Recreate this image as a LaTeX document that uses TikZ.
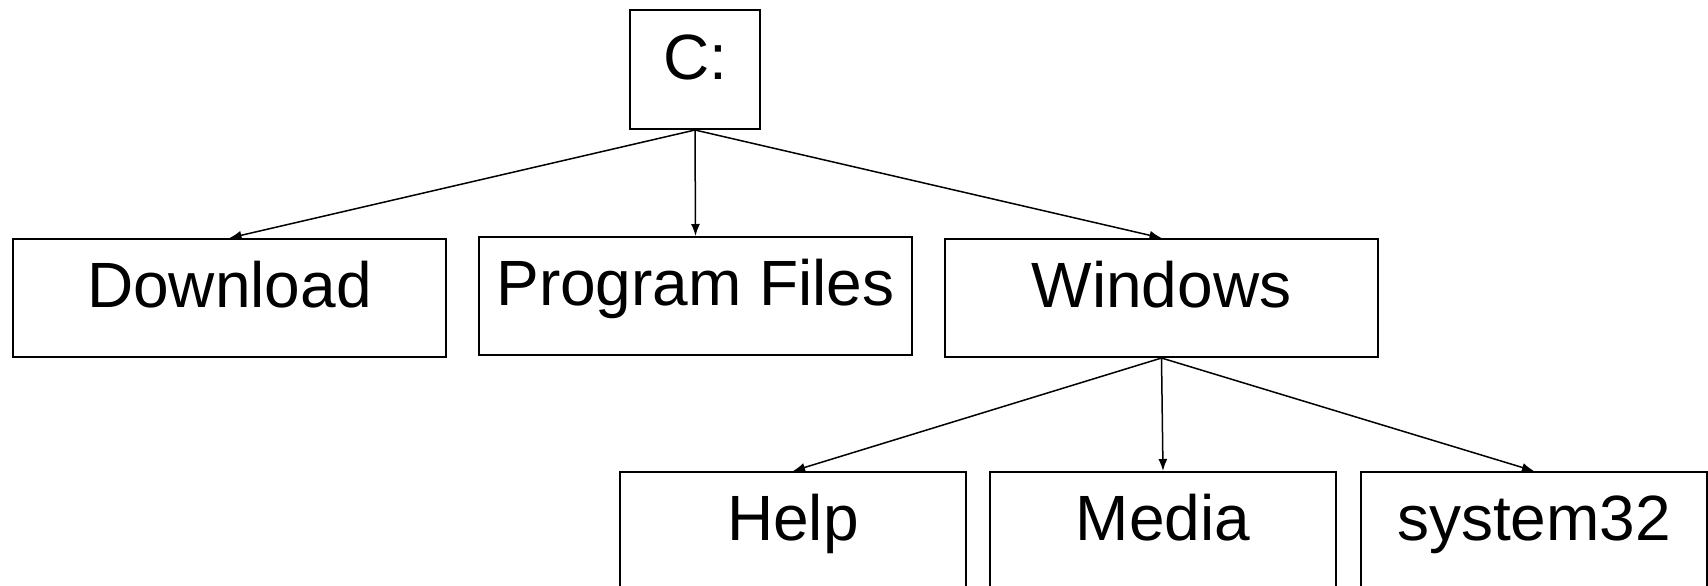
\documentclass[tikz,border=0pt]{standalone}
\usepackage{fontspec}
\setmainfont{Liberation Sans}
\usepackage{tikz}
\usetikzlibrary{
  arrows.meta,
  positioning,
}
\tikzstyle{folder} = [
  draw,
  rectangle,
  line width=1pt,
  inner sep=0pt,
  minimum width=216.5,
  text height=34pt,
  text depth=25pt,
  font=\fontsize{32}{38}\selectfont,
]
\tikzstyle{arrow} = [
  -{Latex[length=6pt,width=4.5pt]},
  line width=0.75pt,
]

\begin{document}
\begin{tikzpicture}[x=0.5pt,y=-0.5pt,node distance=0mm and 15.5pt]
      \useasboundingbox (0,0) rectangle (1708,585);

      \node[folder,minimum width=65,text height=34.5pt,anchor=north west] (root) at (629,9) {C:};

      \node[folder,anchor=north west]    (download)  at (12,238)  {Download};
      \node[folder,yshift=1pt]    (progfiles) [right=of download]  {Program Files};
      \node[folder,yshift=-1pt]   (windows)   [right=of progfiles] {Windows};

      \node[folder,minimum width=173,anchor=north west] (help) at (619,471) {Help};
      \node[folder,minimum width=173] (media)    [right=11pt of help]  {Media};
      \node[folder,minimum width=173] (system32) [right=11.5pt of media]   {system32};

      \draw[arrow] (root.south) -- (download.north);
      \draw[arrow] (root.south) -- (progfiles.north);
      \draw[arrow] (root.south) -- (windows.north);
      \draw[arrow] (windows.south) -- (help.north);
      \draw[arrow] (windows.south) -- (media.north);
      \draw[arrow] (windows.south) -- (system32.north);
\end{tikzpicture}
\end{document}
